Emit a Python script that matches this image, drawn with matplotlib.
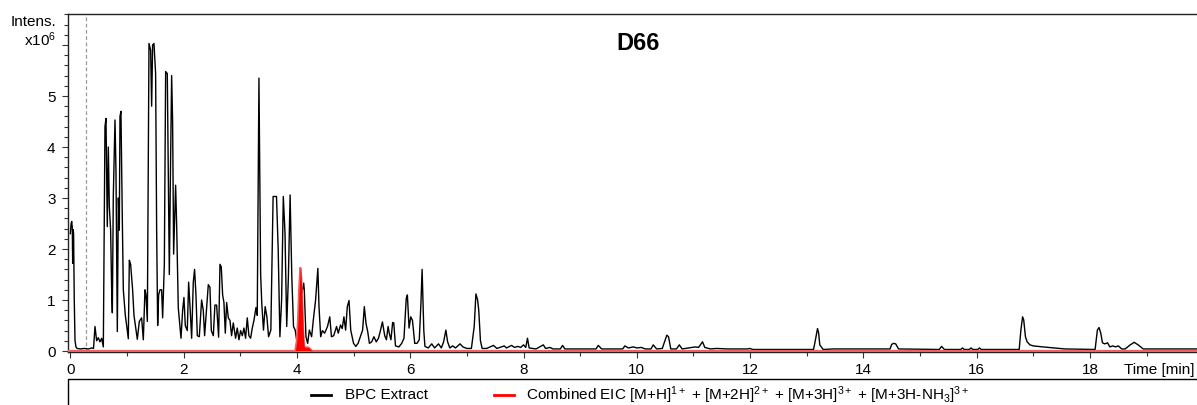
import matplotlib
matplotlib.use("Agg")
import matplotlib.pyplot as plt
from matplotlib.lines import Line2D
from matplotlib.patches import Rectangle
from matplotlib.ticker import MultipleLocator, FixedLocator

plt.rcParams["font.family"] = ["Liberation Sans", "DejaVu Sans"]
plt.rcParams["mathtext.fontset"] = "custom"
plt.rcParams["mathtext.rm"] = "Liberation Sans"
plt.rcParams["mathtext.it"] = "Liberation Sans:italic"
plt.rcParams["mathtext.bf"] = "Liberation Sans:bold"

# Base peak chromatogram (time in min, intensity in 1e6 counts)
bpc_time = [
    0.00, 0.015, 0.025, 0.035, 0.042, 0.05, 0.058, 0.07, 0.083, 0.10, 0.12, 0.18, 0.25, 0.32, 0.38, 0.41,
    0.436, 0.465, 0.494, 0.524, 0.553, 0.583, 0.612, 0.630, 0.653, 0.671, 0.689, 0.712, 0.730, 0.742,
    0.759, 0.789, 0.806, 0.830, 0.848, 0.865, 0.877, 0.894, 0.918, 0.936, 0.971, 0.995, 1.024, 1.042,
    1.065, 1.100, 1.124, 1.183, 1.218, 1.259, 1.289, 1.318, 1.336, 1.360, 1.389, 1.418, 1.436, 1.453,
    1.477, 1.506, 1.524, 1.542, 1.559, 1.583, 1.612, 1.630, 1.660, 1.683, 1.712, 1.730, 1.748, 1.771,
    1.789, 1.806, 1.824, 1.842, 1.859, 1.877, 1.906, 1.954, 1.983, 2.006, 2.030, 2.065, 2.089, 2.112,
    2.142, 2.171, 2.194, 2.218, 2.242, 2.277, 2.318, 2.347, 2.371, 2.406, 2.436, 2.465, 2.489, 2.524,
    2.553, 2.583, 2.618, 2.642, 2.665, 2.689, 2.712, 2.736, 2.760, 2.789, 2.818, 2.847, 2.877, 2.918,
    2.947, 2.977, 3.006, 3.036, 3.065, 3.094, 3.124, 3.153, 3.183, 3.212, 3.242, 3.277, 3.300, 3.330,
    3.36, 3.38, 3.41, 3.44, 3.47, 3.50, 3.54, 3.565, 3.58, 3.64, 3.67, 3.70, 3.73, 3.76, 3.79, 3.82,
    3.85, 3.88, 3.91, 3.94, 3.97, 4.00, 4.04, 4.08, 4.12, 4.13, 4.16, 4.19, 4.22, 4.26, 4.29, 4.33,
    4.37, 4.39, 4.42, 4.45, 4.49, 4.54, 4.58, 4.61, 4.65, 4.70, 4.73, 4.77, 4.80, 4.83, 4.86, 4.89,
    4.92, 4.95, 5.00, 5.04, 5.08, 5.12, 5.16, 5.19, 5.22, 5.25, 5.28, 5.32, 5.36, 5.40, 5.44, 5.47,
    5.51, 5.55, 5.58, 5.61, 5.63, 5.66, 5.69, 5.71, 5.74, 5.80, 5.85, 5.89, 5.93, 5.95, 5.98, 6.01,
    6.04, 6.08, 6.12, 6.16, 6.19, 6.21, 6.24, 6.26, 6.32, 6.38, 6.43, 6.50, 6.55, 6.59, 6.63, 6.66,
    6.70, 6.75, 6.80, 6.88, 6.93, 7.00, 7.08, 7.13, 7.16, 7.19, 7.21, 7.24, 7.27, 7.35, 7.47, 7.53,
    7.66, 7.70, 7.79, 7.84, 7.90, 7.95, 8.00, 8.04, 8.07, 8.10, 8.22, 8.35, 8.39, 8.47, 8.52, 8.65,
    8.69, 8.73, 9.00, 9.28, 9.32, 9.38, 9.50, 9.75, 9.79, 9.85, 9.94, 10.00, 10.08, 10.15, 10.25,
    10.29, 10.35, 10.45, 10.53, 10.56, 10.60, 10.70, 10.75, 10.80, 10.97, 11.03, 11.09, 11.16, 11.20,
    11.30, 11.41, 11.60, 11.96, 11.99, 12.05, 13.12, 13.15, 13.19, 13.21, 13.23, 13.29, 13.47, 14.47,
    14.50, 14.53, 14.57, 14.62, 15.34, 15.38, 15.43, 15.72, 15.75, 15.78, 15.87, 15.90, 15.93, 16.02,
    16.05, 16.08, 16.75, 16.78, 16.81, 16.83, 16.86, 16.89, 16.94, 17.00, 17.17, 17.56, 18.09, 18.13,
    18.16, 18.19, 18.22, 18.26, 18.31, 18.35, 18.40, 18.45, 18.50, 18.56, 18.62, 18.71, 18.78, 18.85,
    18.94, 19.95,
]
bpc_intensity = [
    2.30, 2.50, 2.54, 2.42, 1.72, 2.38, 2.30, 1.00, 0.21, 0.08, 0.05, 0.04, 0.05, 0.04, 0.06, 0.05,
    0.48, 0.20, 0.26, 0.18, 0.25, 0.08, 4.40, 4.56, 2.44, 4.00, 2.83, 2.37, 1.20, 0.75,
    3.03, 4.53, 3.55, 0.38, 3.00, 2.37, 4.60, 4.70, 2.60, 1.20, 0.70, 0.50, 0.24, 1.78,
    1.70, 1.20, 0.70, 0.23, 0.58, 0.65, 0.22, 1.20, 1.10, 0.58, 6.03, 5.90, 4.80, 6.00,
    6.03, 5.44, 2.40, 0.50, 1.10, 1.20, 1.20, 0.65, 1.70, 5.48, 5.44, 3.50, 1.50, 3.80,
    5.40, 4.50, 1.90, 2.60, 3.25, 2.50, 0.85, 0.25, 0.80, 1.05, 0.50, 0.40, 1.35, 0.90,
    0.25, 1.35, 1.60, 1.10, 0.30, 0.28, 1.00, 0.80, 0.30, 0.85, 1.30, 1.25, 0.40, 0.30,
    0.90, 0.90, 0.27, 1.70, 1.65, 1.10, 0.95, 0.35, 0.95, 0.65, 0.60, 0.30, 0.55, 0.25,
    0.45, 0.22, 0.40, 0.30, 0.45, 0.25, 0.65, 0.30, 0.25, 0.45, 0.60, 0.85, 0.70, 5.35,
    1.50, 0.93, 0.41, 0.87, 0.67, 0.28, 0.41, 2.00, 3.03, 3.03, 1.98, 0.28, 1.00, 3.03, 2.31, 0.48,
    1.46, 3.06, 1.46, 0.48, 0.41, 0.18, 0.50, 1.10, 1.33, 1.20, 0.28, 0.15, 0.41, 0.28, 0.61, 1.00,
    1.62, 0.87, 0.28, 0.40, 0.35, 0.48, 0.67, 0.28, 0.30, 0.48, 0.35, 0.51, 0.44, 0.67, 0.41, 0.87,
    0.99, 0.41, 0.15, 0.09, 0.15, 0.28, 0.41, 0.87, 0.54, 0.38, 0.15, 0.18, 0.28, 0.18, 0.25, 0.38,
    0.57, 0.30, 0.22, 0.48, 0.35, 0.22, 0.56, 0.55, 0.10, 0.08, 0.15, 0.25, 1.03, 1.10, 0.45, 0.67,
    0.60, 0.15, 0.15, 0.22, 0.95, 1.60, 0.40, 0.09, 0.06, 0.14, 0.06, 0.14, 0.06, 0.18, 0.41, 0.18,
    0.06, 0.10, 0.06, 0.14, 0.08, 0.05, 0.05, 0.48, 1.12, 1.00, 0.80, 0.20, 0.05, 0.05, 0.11, 0.05,
    0.10, 0.06, 0.11, 0.07, 0.09, 0.07, 0.12, 0.07, 0.25, 0.06, 0.04, 0.12, 0.05, 0.07, 0.04, 0.04,
    0.11, 0.04, 0.04, 0.04, 0.11, 0.04, 0.04, 0.04, 0.10, 0.06, 0.08, 0.06, 0.07, 0.04, 0.04,
    0.12, 0.04, 0.05, 0.31, 0.28, 0.04, 0.04, 0.12, 0.04, 0.07, 0.08, 0.07, 0.18, 0.07,
    0.04, 0.05, 0.04, 0.04, 0.05, 0.03, 0.03, 0.20, 0.44, 0.35, 0.12, 0.03, 0.04, 0.04,
    0.13, 0.15, 0.14, 0.04, 0.03, 0.09, 0.03, 0.03, 0.06, 0.03, 0.03, 0.06, 0.03, 0.03,
    0.06, 0.03, 0.03, 0.41, 0.67, 0.61, 0.28, 0.18, 0.12, 0.10, 0.08, 0.04, 0.03, 0.41,
    0.46, 0.35, 0.16, 0.14, 0.16, 0.08, 0.10, 0.08, 0.10, 0.04, 0.04, 0.12, 0.17, 0.12,
    0.04, 0.04,
]

# Combined extracted ion chromatogram
eic_time = [-0.05, 3.97, 4.00, 4.02, 4.04, 4.06, 4.075, 4.09, 4.11, 4.125, 4.14, 4.20, 4.25, 4.27, 19.95]
eic_intensity = [0.0, 0.0, 0.20, 0.60, 1.20, 1.63, 1.45, 1.00, 0.40, 0.10, 0.07, 0.07, 0.02, 0.0, 0.0]

x_major = [0, 2, 4, 6, 8, 10, 12, 14, 16, 18]
x_labels = ["0", "2", "4", "6", "8", "10", "12", "14", "16", "18"]
y_major = [0, 1, 2, 3, 4, 5, 6]
y_labels = ["0", "1", "2", "3", "4", "5", ""]

title = "D66"
legend_bpc = "BPC Extract"
legend_eic = (r"Combined EIC [M+H]$^{1+}$ + [M+2H]$^{2+}$ + [M+3H]$^{3+}$"
              r" + [M+3H-NH$_3$]$^{3+}$")

FS = 11
W, H = 1197, 405
fig = plt.figure(figsize=(W / 100, H / 100), dpi=100)
ax = fig.add_axes([68 / W, (H - 352) / H, (1199 - 68) / W, (352 - 14) / H])

ax.axvline(0.28, color="#999999", lw=0.9, ls=(0, (3, 2)), zorder=1)
ax.plot(bpc_time, bpc_intensity, color="black", lw=1.0, zorder=3)
ax.plot(eic_time, eic_intensity, color="#f06060", lw=1.6, zorder=4)
ax.fill_between(eic_time, eic_intensity, 0, color="#ff0000", lw=0, zorder=5)

ax.set_xlim(-0.0406, 19.924)
ax.set_ylim(-0.0196, 6.608)

ax.xaxis.set_major_locator(FixedLocator(x_major))
ax.set_xticklabels(x_labels)
ax.xaxis.set_minor_locator(FixedLocator([1, 3, 5, 7, 9, 11, 13, 15, 17, 19]))
ax.yaxis.set_major_locator(FixedLocator(y_major))
ax.set_yticklabels(y_labels)
ax.yaxis.set_minor_locator(MultipleLocator(0.2))

ax.tick_params(axis="both", which="major", direction="out", length=4, width=0.8,
               labelsize=FS, color="#333333")
ax.tick_params(axis="both", which="minor", direction="out", length=3, width=0.8,
               color="#333333")
ax.tick_params(axis="x", which="major", pad=4)
ax.tick_params(axis="y", which="major", pad=5)

for side in ("top", "left", "bottom"):
    ax.spines[side].set_linewidth(1.0)
    ax.spines[side].set_color("#222222")
ax.spines["right"].set_visible(False)

fig.text(56 / W, (H - 22) / H, "Intens.", ha="right", va="center", fontsize=FS)
fig.text(56 / W, (H - 40) / H, r"x10$^6$", ha="right", va="center", fontsize=FS)
fig.text(1194 / W, (H - 370) / H, "Time [min]", ha="right", va="center", fontsize=FS)
fig.text(638 / W, (H - 43) / H, title, ha="center", va="center", fontsize=17,
         fontweight="bold")

# Legend panel below the plot
fig.add_artist(Rectangle((68 / W, -0.2), 1.0, 0.2 + (H - 379) / H,
                         transform=fig.transFigure, fill=False,
                         edgecolor="black", lw=1.0, clip_on=False))
ly = (H - 395) / H
fig.add_artist(Line2D([311 / W, 331 / W], [ly, ly], transform=fig.transFigure,
                      color="black", lw=2.0))
fig.text(345 / W, ly, legend_bpc, ha="left", va="center", fontsize=FS)
fig.add_artist(Line2D([494 / W, 514 / W], [ly, ly], transform=fig.transFigure,
                      color="#ff0000", lw=2.0))
fig.text(526 / W, ly, legend_eic, ha="left", va="center", fontsize=FS)

fig.savefig("out.png", dpi=100)
